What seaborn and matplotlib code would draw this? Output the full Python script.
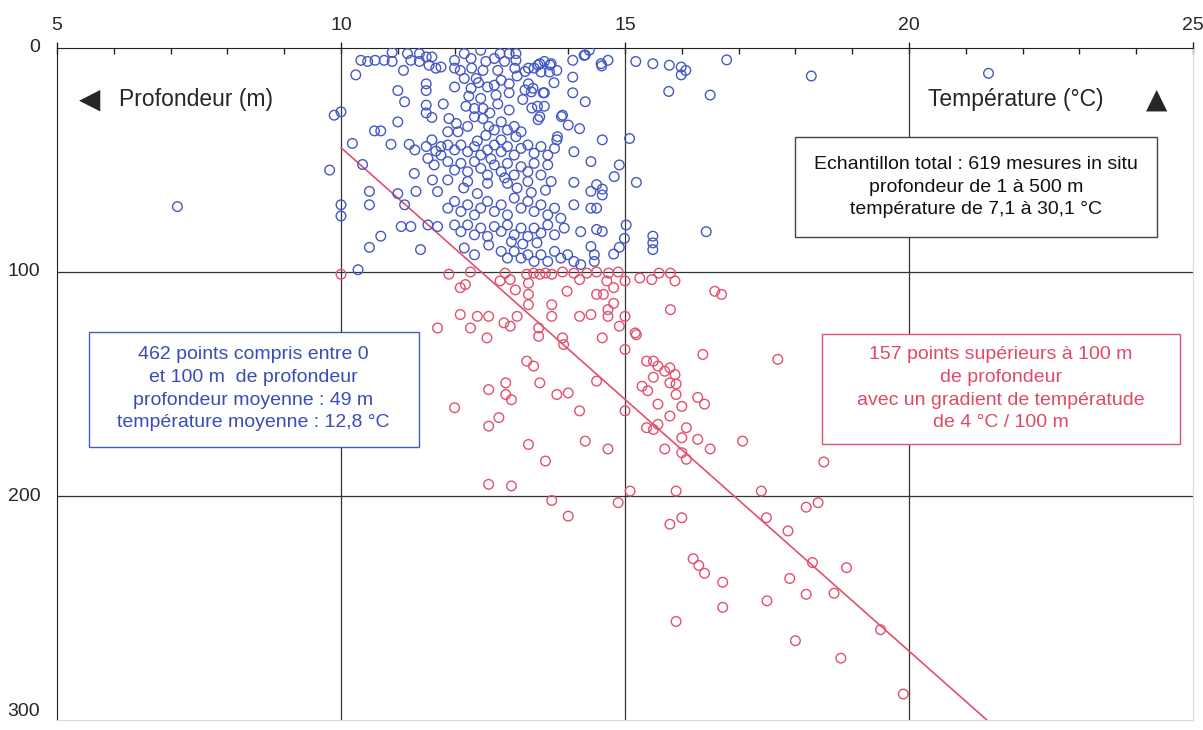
import numpy as np
import pandas as pd
import matplotlib
matplotlib.use('Agg')
import matplotlib.pyplot as plt
from matplotlib.patches import Rectangle
from matplotlib.ticker import MultipleLocator
import seaborn as sns

# Mesures 0-100 m (temperature °C, profondeur m)
blue_pts = [
    (10.35, 5.5), (10.47, 6), (10.6, 5.5), (10.76, 5.5), (10.9, 2), (10.9, 6), (11.1, 10), (11.17, 2.5),
    (11.23, 5.5), (11.38, 2.5), (11.38, 6), (11.5, 4), (11.55, 7.7), (11.6, 4), (11.67, 9), (11.76, 8.5),
    (10.26, 12), (12.0, 5.5), (12.17, 2.5), (12.29, 4.7), (12.3, 9), (12.46, 1), (12.55, 6), (12.7, 4.7),
    (12.8, 2.5), (12.88, 6), (12.96, 2.5), (13.08, 2.5), (13.08, 5.5), (12.76, 10), (12.5, 10), (12.1, 10),
    (12.0, 9), (13.3, 9), (13.4, 9), (13.5, 7), (13.58, 6), (13.7, 7), (13.8, 10), (13.52, 10.7),
    (13.67, 10.7), (14.08, 5.5), (14.28, 3.3), (14.37, 1), (14.58, 7), (14.7, 5.5), (14.08, 13),
    (13.06, 9), (13.24, 10.5), (13.47, 7.6), (13.68, 7.6), (14.3, 3.1), (14.59, 8),
    (15.19, 6), (15.49, 7), (15.78, 7.7), (15.99, 8.5), (16.07, 10), (15.99, 12), (15.77, 19.4), (16.5, 21),
    (16.79, 5.3), (18.28, 12.5), (21.4, 11.3),
    (11.0, 19), (11.12, 24), (11.5, 16), (11.5, 19), (11.5, 25.5), (11.5, 29), (11.6, 31), (11.8, 25),
    (11.0, 33), (9.88, 30), (10.0, 28.5), (10.59, 37), (10.7, 37),
    (12.0, 17.4), (12.17, 13.6), (12.29, 18), (12.38, 13.6), (12.58, 17.4), (12.7, 16.6), (12.82, 14.4),
    (12.96, 16), (12.96, 20), (12.73, 21), (12.46, 22.5), (12.2, 26), (12.35, 27), (12.5, 27), (12.76, 25),
    (12.96, 27.7), (13.3, 16), (13.35, 19.6), (13.58, 20), (13.46, 26), (13.58, 26), (13.5, 30.7),
    (13.9, 30), (14.08, 20), (14.3, 24), (14.0, 34.4), (14.2, 36), (14.6, 41), (15.08, 40.4),
    (13.24, 18.7), (13.38, 18), (13.56, 20), (13.36, 26.8), (13.47, 32), (13.88, 30.6), (13.8, 41),
    (11.9, 31.5), (12.03, 33.7), (11.88, 37.4), (12.06, 37.4), (12.23, 35), (12.35, 30.7), (12.5, 31.5),
    (12.6, 35), (12.55, 39), (12.7, 36.6), (12.82, 33), (12.93, 36.6), (13.05, 35), (13.17, 37.4),
    (13.08, 39.6), (12.82, 41),
    (10.88, 43), (11.2, 43), (11.3, 45.5), (11.5, 44), (11.6, 41), (11.67, 46), (11.76, 44), (10.2, 42.6),
    (10.38, 52), (9.8, 54.5),
    (11.88, 43.3), (12.0, 45.5), (12.11, 43.3), (12.23, 46.3), (12.35, 44), (12.46, 47.8), (12.58, 45.5),
    (12.7, 43.3), (12.82, 46.3), (12.93, 44), (13.05, 47.8), (13.17, 44.8), (13.29, 43.3), (13.4, 47),
    (13.52, 44), (13.64, 47.8), (13.76, 44.8), (13.81, 39.6), (14.1, 46.3), (14.4, 50.7), (14.81, 57.4),
    (14.9, 52.2),
    (11.53, 49.3), (11.64, 52.2), (11.76, 47.8), (11.88, 50.7), (12.0, 54.5), (12.11, 51.5), (12.23, 55.2),
    (12.35, 50.7), (12.46, 53.7), (12.58, 56.7), (12.7, 52.2), (12.82, 55.2), (12.93, 51.5), (13.05, 56.7),
    (13.17, 53), (13.29, 55.2), (13.4, 51.5), (13.52, 56.7), (13.64, 52.2), (13.7, 59.6), (13.29, 59.6),
    (12.93, 60.4), (12.58, 60.4), (12.23, 59.6), (11.88, 58.9), (11.61, 58.9), (11.7, 64.1),
    (11.29, 56), (11.32, 64), (11.0, 65), (11.12, 70), (10.5, 64), (10.5, 70), (10.0, 70), (10.0, 75),
    (14.1, 60), (14.4, 64), (14.5, 61), (14.6, 63), (14.6, 65.6), (15.2, 60),
    (11.88, 71.5), (12.0, 68.5), (12.11, 73), (12.23, 70), (12.35, 74.5), (12.46, 71.5), (12.58, 68.5),
    (12.7, 73), (12.82, 70), (12.93, 74.5), (13.05, 67), (13.17, 71.5), (13.29, 68.5), (13.4, 73),
    (13.52, 70), (13.64, 74.5), (13.76, 71.5), (13.87, 76),
    (12.0, 79), (12.11, 82), (12.23, 79), (12.35, 83.4), (12.46, 80.4), (12.58, 84.1), (12.7, 79.7),
    (12.82, 81.9), (12.93, 79), (13.05, 83.4), (13.17, 80.4), (13.29, 84.1), (13.4, 80.4), (13.52, 82.6),
    (13.64, 79), (13.76, 83.4), (13.93, 80.4),
    (14.1, 70), (14.4, 71.5), (14.5, 71.5), (11.06, 79.7), (11.23, 79.7), (11.53, 79), (11.7, 79.7),
    (10.7, 84), (10.5, 89), (11.4, 90), (14.22, 82), (14.5, 81), (14.6, 81.9), (15.02, 79), (14.99, 85),
    (14.9, 89), (14.8, 92), (14.4, 88.6),
    (12.17, 89.3), (12.35, 92.3), (12.82, 90.8), (12.93, 93.8), (13.05, 90.8), (13.17, 93.8), (13.29, 92.3),
    (13.4, 95.3), (13.52, 92.3), (13.64, 95.3), (13.76, 90.8), (13.87, 93.8), (13.99, 92.3), (14.1, 95.3),
    (14.22, 96.7), (14.46, 92.3), (14.46, 95.3), (15.49, 84), (15.49, 87), (15.49, 90), (10.3, 99),
    (7.12, 70.8), (16.43, 82),
    (12.4, 41.5), (12.64, 49.5), (12.88, 58), (13.1, 62.5), (13.35, 64.5), (12.4, 65), (12.16, 62.5),
    (13.6, 63.5), (13.2, 87.5), (12.6, 88), (13.0, 86.5), (13.45, 87), (12.25, 21.5), (12.62, 29),
    (13.2, 23), (13.75, 15.5), (13.1, 12.5), (12.42, 15.5),
]

# Mesures > 100 m
red_pts = [
    (10.0, 101), (11.9, 101), (12.28, 100), (12.1, 107), (12.19, 105.6), (12.8, 104), (12.89, 100.5),
    (12.98, 103.4), (13.07, 108), (13.27, 101), (13.3, 105), (13.3, 110), (13.3, 114.6), (13.39, 100.5),
    (13.5, 101), (13.6, 100.5), (13.71, 101), (13.9, 100), (13.98, 108.6), (14.1, 100.5), (14.2, 103.4),
    (14.33, 100.5), (14.5, 100), (14.5, 110), (14.62, 110), (14.68, 104), (14.71, 100.5), (14.8, 107),
    (14.88, 100), (14.8, 114), (15.0, 104), (15.26, 102.7), (15.47, 103.4), (15.6, 100.5), (15.8, 100.5),
    (15.88, 104), (15.8, 116.8), (16.58, 108.6), (16.7, 110),
    (11.7, 125), (12.1, 119), (12.28, 125), (12.4, 119.8), (12.6, 119.8), (12.57, 129.4), (12.87, 122.7),
    (12.98, 124.2), (13.1, 119.8), (13.48, 125), (13.48, 128.7), (13.71, 114.6), (13.71, 119.8),
    (13.9, 129.4), (13.92, 132.4), (14.2, 119.8), (14.4, 119), (14.6, 129.4), (14.7, 116.8), (14.7, 119.8),
    (15.0, 119.8), (14.9, 124.2), (15.18, 127.2), (15.2, 128), (15.0, 134.6), (16.37, 136.8), (17.69, 139),
    (13.27, 139.8), (13.39, 142), (15.38, 139.8), (15.5, 139.8), (15.58, 142), (15.7, 144.3), (15.79, 142.8),
    (15.88, 145.8), (15.79, 149.5), (15.9, 150), (15.9, 154.7), (15.5, 147), (15.3, 151), (15.4, 153),
    (15.58, 159), (16.0, 160), (16.28, 156), (16.4, 159), (14.5, 148.7), (13.5, 149.5), (12.6, 152.5),
    (12.9, 149.5), (12.9, 154.7), (13.0, 157), (13.8, 154.7), (14.0, 154), (12.0, 160.6), (14.2, 162),
    (15.0, 162),
    (12.78, 165), (12.6, 168.8), (15.38, 169.5), (15.5, 170.3), (15.58, 168), (15.79, 164.3), (16.08, 169.5),
    (16.0, 174), (16.28, 174.7), (16.5, 179), (17.07, 175.5), (13.3, 177), (14.3, 175.5), (14.7, 179),
    (15.7, 179), (16.0, 180.7), (16.08, 183.6), (13.6, 184.4), (12.6, 194.8), (13.0, 195.5), (15.09, 197.8),
    (15.9, 197.8), (17.4, 197.8), (13.71, 202), (14.88, 203), (14.0, 209), (15.79, 212.6), (16.0, 209.7),
    (17.49, 209.7), (17.87, 215.6), (18.5, 184.8), (18.19, 205), (18.4, 203),
    (16.2, 228), (16.3, 231), (16.4, 234.5), (16.72, 238.5), (16.72, 249.7), (15.9, 256), (17.5, 246.8),
    (17.9, 236.8), (18.19, 243.9), (18.3, 229.7), (18.68, 243.4), (18.9, 232), (18.0, 264.6),
    (18.8, 272.4), (19.5, 259.7), (19.9, 288.4),
]

# droite de gradient (env. 4 °C / 100 m)
line_temp = [10.0, 21.37]
line_depth = [44.5, 300.0]

x_ticks = [5, 10, 15, 20, 25]
y_ticks = [0, 100, 200, 300]

blue = '#4558c4'
red = '#e4506c'

sns.set_style('white')
plt.rcParams['font.family'] = ['Liberation Sans', 'DejaVu Sans']

blue_df = pd.DataFrame(blue_pts, columns=['temp', 'depth'])
red_df = pd.DataFrame(red_pts, columns=['temp', 'depth'])

fig = plt.figure(figsize=(12.03, 7.30), dpi=100)
ax = fig.add_axes([57 / 1203, 1 - 720 / 730, 1136 / 1203, 672 / 730])

# grille
for xv in [10, 15, 20]:
    ax.axvline(xv, color='#333333', lw=0.9, zorder=1)
for yv in [100, 200]:
    ax.axhline(yv, color='#333333', lw=0.9, zorder=1)

sns.lineplot(x=line_temp, y=line_depth, color=red, lw=1.2, ax=ax, zorder=2)
sns.scatterplot(data=blue_df, x='temp', y='depth', ax=ax, s=48, facecolor='none',
                edgecolor=blue, linewidth=1.0, zorder=3)
sns.scatterplot(data=red_df, x='temp', y='depth', ax=ax, s=48, facecolor='none',
                edgecolor=red, linewidth=1.0, zorder=3)

ax.set_xlim(5, 25)
ax.set_ylim(300, 0)
ax.xaxis.tick_top()
ax.set_xticks(x_ticks)
ax.set_yticks(y_ticks)
ax.xaxis.set_minor_locator(MultipleLocator(1))
ax.tick_params(axis='x', which='major', direction='inout', length=8, width=1, labelsize=14, pad=6)
ax.tick_params(axis='x', which='minor', direction='in', length=4, width=1, top=True, bottom=False)
ax.tick_params(axis='y', which='major', direction='inout', length=8, width=1, labelsize=14, pad=8)
ax.set_xlabel('')
ax.set_ylabel('')
ax.spines['top'].set_color('#222222')
ax.spines['left'].set_color('#222222')
ax.spines['right'].set_color('#d8d8d8')
ax.spines['bottom'].set_color('#d8d8d8')
for lab in ax.get_yticklabels():
    lab.set_verticalalignment('center')
ax.get_yticklabels()[-1].set_verticalalignment('bottom')

# axes labels inside plot
ax.text(0.029, 0.923, '◀', transform=ax.transAxes, fontsize=20, ha='center', va='center',
        family=['DejaVu Sans'])
ax.text(0.055, 0.923, 'Profondeur (m)', transform=ax.transAxes, fontsize=16.5, ha='left', va='center')
ax.text(0.921, 0.923, 'Température (°C)', transform=ax.transAxes, fontsize=16.5, ha='right', va='center')
ax.text(0.968, 0.923, '▲', transform=ax.transAxes, fontsize=20, ha='center', va='center',
        family=['DejaVu Sans'])

# encadrés
boxes = [
    ((0.6496, 0.7181), 0.3187, 0.1499, '#444444', '#111111', (0.809, 0.793),
     'Echantillon total : 619 mesures in situ\nprofondeur de 1 à 500 m\ntempérature de 7,1 à 30,1 °C'),
    ((0.0282, 0.4065), 0.2905, 0.1706, blue, '#3a4cb8', (0.173, 0.493),
     '462 points compris entre 0\net 100 m  de profondeur\nprofondeur moyenne : 49 m\ntempérature moyenne : 12,8 °C'),
    ((0.6734, 0.411), 0.3151, 0.1632, red, '#e04a66', (0.831, 0.493),
     '157 points supérieurs à 100 m\nde profondeur\navec un gradient de températude\nde 4 °C / 100 m'),
]
for (x0, y0), w, h, ec, tc, (cx, cy), txt in boxes:
    ax.add_patch(Rectangle((x0, y0), w, h, transform=ax.transAxes, facecolor='white',
                           edgecolor=ec, lw=1.0, zorder=5))
    ax.text(cx, cy, txt, transform=ax.transAxes, ha='center', va='center', fontsize=14,
            color=tc, linespacing=1.45, zorder=6)

fig.savefig('out.png', dpi=100)
